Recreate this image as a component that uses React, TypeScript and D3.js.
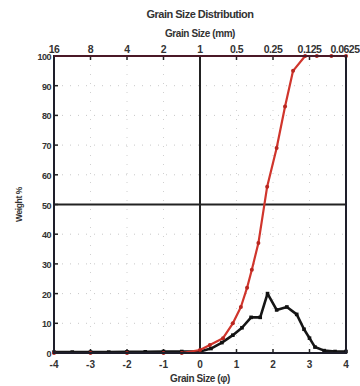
import React from "react";
import * as d3 from "d3";

const phiTicks = [-4, -3, -2, -1, 0, 1, 2, 3, 4];
const mmLabels = ["16", "8", "4", "2", "1", "0.5", "0.25", "0.125", "0.0625"];
const yTicks = [0, 10, 20, 30, 40, 50, 60, 70, 80, 90, 100];

const cumPhi = [-4, -3, -2, -1, -0.5, 0, 0.27, 0.63, 0.9, 1.12, 1.29, 1.42, 1.6, 1.84, 2.1, 2.33, 2.55, 2.88, 3.2, 3.6, 4];
const cumPct = [0, 0, 0, 0, 0, 1, 2.7, 5, 10, 15.5, 22, 28, 37, 56, 69, 83, 95, 100, 100, 100, 100];

const freqPhi = [-4, -3.5, -3, -2.5, -2, -1.5, -1, -0.5, 0, 0.3, 0.6, 0.9, 1.15, 1.4, 1.65, 1.85, 2.1, 2.38, 2.65, 2.85, 3.0, 3.15, 3.4, 3.7, 4.0];
const freqPct = [0.3, 0.3, 0.3, 0.3, 0.4, 0.4, 0.5, 0.5, 0.5, 1.5, 3.5, 6, 8.5, 12, 12, 20, 14.5, 15.5, 13, 8, 5, 2, 0.8, 0.5, 0.5];

const W = 360, H = 386;
const L = 54, R = 346, T = 56, B = 353;

export default function App() {
  const x = d3.scaleLinear().domain([-4, 4]).range([L, R]);
  const y = d3.scaleLinear().domain([0, 100]).range([B, T]);
  const cum = cumPhi.map((p, i) => [p, cumPct[i]] as [number, number]);
  const freq = freqPhi.map((p, i) => [p, freqPct[i]] as [number, number]);
  const line = d3.line<[number, number]>().x(d => x(d[0])).y(d => y(d[1]));
  const font = "'Liberation Sans', Arial, sans-serif";
  const tc = "#333";
  return (
    <svg width={W} height={H} style={{ position: "absolute", left: 0, top: 0, background: "#fff" }} fontFamily={font} fontWeight={700}>
      <rect x={0} y={0} width={W} height={H} fill="#fff" />
      {yTicks.slice(1, -1).map(t => (
        <line key={"gy" + t} x1={L} x2={R} y1={y(t)} y2={y(t)} stroke="#c8c8c8" strokeWidth={1} strokeDasharray="1,7" />
      ))}
      {phiTicks.slice(1, -1).map(t => (
        <line key={"gx" + t} x1={x(t)} x2={x(t)} y1={T} y2={B} stroke="#d0d0d0" strokeWidth={1} strokeDasharray="1,8" />
      ))}
      <line x1={x(0)} x2={x(0)} y1={T} y2={B} stroke="#222" strokeWidth={2} />
      <line x1={L} x2={R} y1={y(50)} y2={y(50)} stroke="#222" strokeWidth={2} />
      {yTicks.map(t => (
        <line key={"ty" + t} x1={L} x2={L + 4} y1={y(t)} y2={y(t)} stroke="#222" strokeWidth={1.5} />
      ))}
      {phiTicks.map(t => (
        <g key={"tx" + t}>
          <line x1={x(t)} x2={x(t)} y1={B} y2={B - 4} stroke="#222" strokeWidth={1.5} />
          <line x1={x(t)} x2={x(t)} y1={T} y2={T + 4} stroke="#222" strokeWidth={1.5} />
        </g>
      ))}
      <path d={line(freq) || ""} fill="none" stroke="#161616" strokeWidth={2.6} strokeLinejoin="round" />
      {freq.map((d, i) => (
        <rect key={"fm" + i} x={x(d[0]) - 1.8} y={y(d[1]) - 1.8} width={3.6} height={3.6} fill="#111" />
      ))}
      <path d={line(cum) || ""} fill="none" stroke="#d0352c" strokeWidth={2.2} strokeLinejoin="round" />
      {cum.map((d, i) => (
        <circle key={"cm" + i} cx={x(d[0])} cy={y(d[1])} r={2} fill="#b8261f" />
      ))}
      <rect x={L} y={T} width={R - L} height={B - T} fill="none" stroke="#1e1e2a" strokeWidth={2} />
      <line x1={L} x2={R} y1={T} y2={T} stroke="#4a1826" strokeWidth={2} />
      <text x={200} y={18} textAnchor="middle" fontSize={11} fill={tc} letterSpacing={-0.5}>Grain Size Distribution</text>
      <text x={200} y={37} textAnchor="middle" fontSize={10} fill={tc} letterSpacing={-0.4}>Grain Size (mm)</text>
      {phiTicks.map((t, i) => (
        <text key={"ml" + t} x={x(t) + (i === 8 ? -1 : 0)} y={53} textAnchor="middle" fontSize={10.5} fill={tc} letterSpacing={-0.5}>{mmLabels[i]}</text>
      ))}
      {yTicks.map(t => (
        <text key={"yl" + t} x={L - 3} y={y(t) + 4} textAnchor="end" fontSize={9} fill={tc} letterSpacing={-0.5}>{t}</text>
      ))}
      {phiTicks.map(t => (
        <text key={"xl" + t} x={x(t)} y={368} textAnchor="middle" fontSize={10} fill={tc}>{t}</text>
      ))}
      <text x={200} y={382} textAnchor="middle" fontSize={10} fill={tc} letterSpacing={-0.4}>Grain Size (φ)</text>
      <text transform={`translate(22,${y(50)}) rotate(-90)`} textAnchor="middle" fontSize={8.5} fill={tc} letterSpacing={-0.4}>Weight %</text>
    </svg>
  );
}
